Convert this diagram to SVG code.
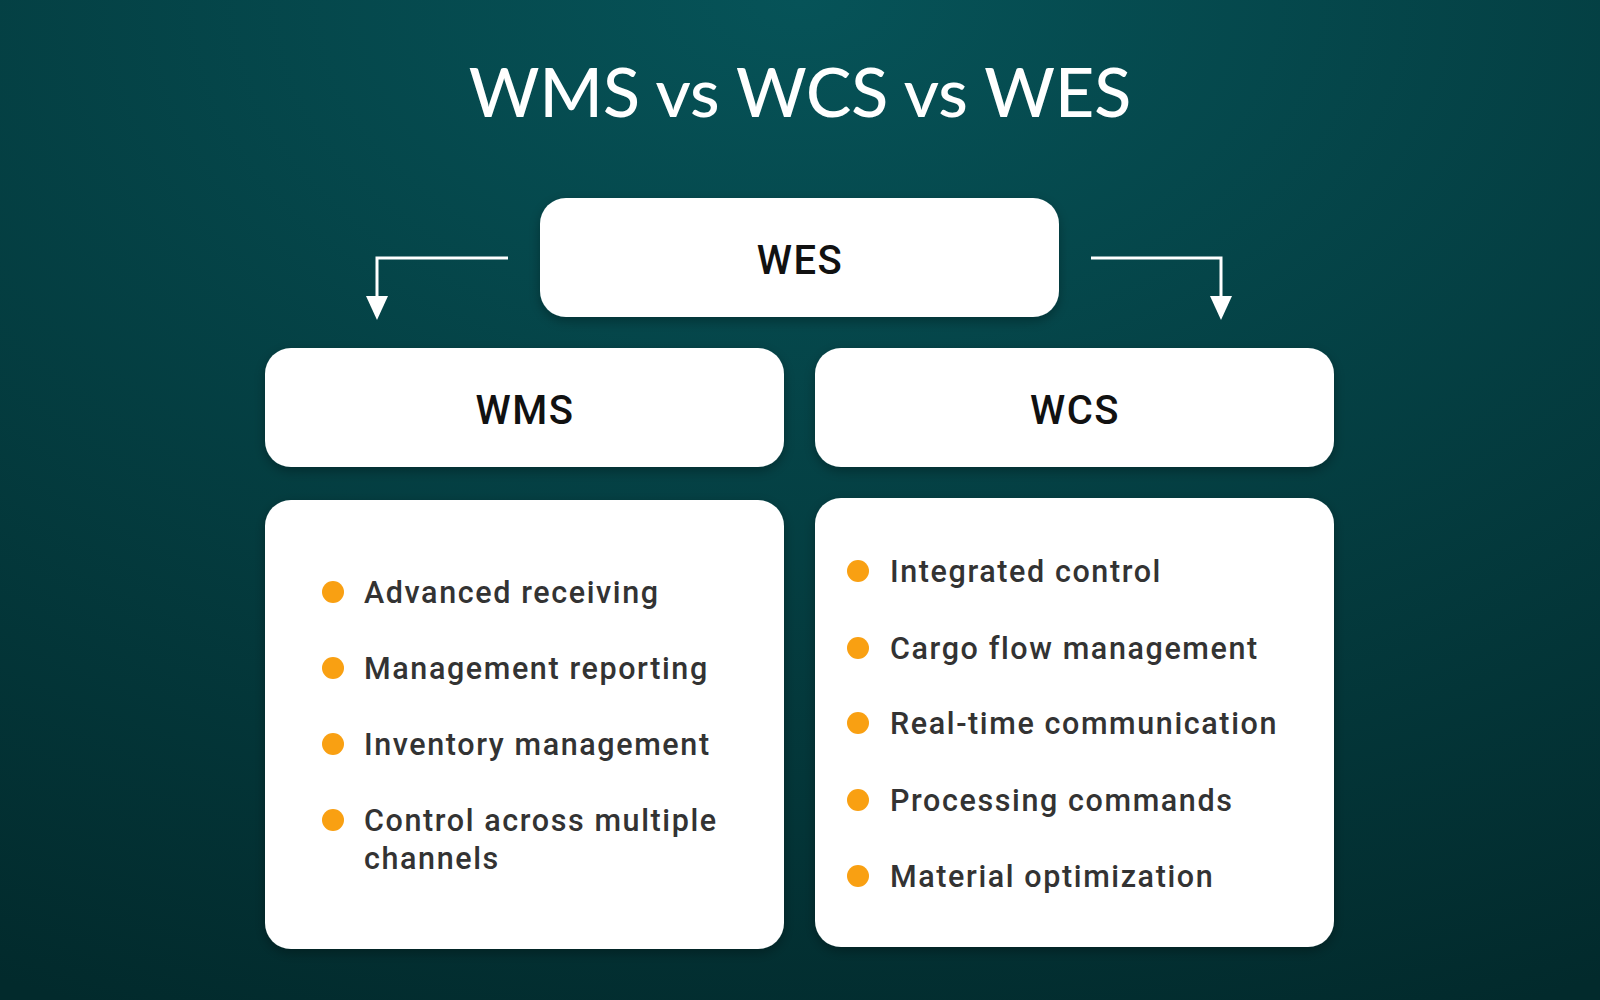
<svg xmlns="http://www.w3.org/2000/svg" width="1600" height="1000" viewBox="0 0 1600 1000">
<defs>
<radialGradient id="bg" cx="0.5" cy="0" r="1.1">
<stop offset="0" stop-color="#065358"/>
<stop offset="1" stop-color="#022a2c"/>
</radialGradient>
<filter id="sh" x="-10%" y="-10%" width="120%" height="130%"><feDropShadow dx="0" dy="4" stdDeviation="6" flood-color="#000" flood-opacity="0.3"/></filter>
<marker id="ah" markerWidth="24" markerHeight="24" refX="20" refY="12" orient="auto" markerUnits="userSpaceOnUse" viewBox="0 0 24 24"><path d="M0,1 L24,12 L0,23 Z" fill="#fff"/></marker>
<style>
.box{fill:#fff;filter:url(#sh)}
.hd{font-family:Roboto,"Liberation Sans",Arial,sans-serif;font-weight:500;font-size:40px;fill:#111;text-anchor:middle;letter-spacing:1.5px}
.it{font-family:Roboto,"Liberation Sans",sans-serif;font-weight:500;font-size:30.5px;fill:#333;letter-spacing:1.6px}
.dot{fill:#f9a012}
.ln{fill:none;stroke:#fff;stroke-width:3}
</style>
</defs>
<rect width="1600" height="1000" fill="url(#bg)"/>
<text x="800" y="117" text-anchor="middle" font-family="Lato,'Liberation Sans',sans-serif" font-size="68" fill="#fff" font-weight="500">WMS vs WCS vs WES</text>
<g id="connectors">
<path class="ln" d="M508,258 H377 V316" marker-end="url(#ah)"/>
<path class="ln" d="M1091,258 H1221 V316" marker-end="url(#ah)"/>
</g>
<g id="wes"><rect class="box" x="540" y="198" width="519" height="119" rx="26"/><text class="hd" x="800" y="274">WES</text></g>
<g id="wms"><rect class="box" x="265" y="348" width="519" height="119" rx="26"/><text class="hd" x="525" y="424">WMS</text></g>
<g id="wcs"><rect class="box" x="815" y="348" width="519" height="119" rx="26"/><text class="hd" x="1075" y="424">WCS</text></g>
<g id="wms-list"><rect class="box" x="265" y="500" width="519" height="449" rx="26"/>
<circle class="dot" cx="333" cy="592" r="11"/><text class="it" x="364" y="603">Advanced receiving</text>
<circle class="dot" cx="333" cy="668" r="11"/><text class="it" x="364" y="679">Management reporting</text>
<circle class="dot" cx="333" cy="744" r="11"/><text class="it" x="364" y="755">Inventory management</text>
<circle class="dot" cx="333" cy="820" r="11"/><text class="it" x="364" y="831">Control across multiple</text><text class="it" x="364" y="869">channels</text>
</g>
<g id="wcs-list"><rect class="box" x="815" y="498" width="519" height="449" rx="26"/>
<circle class="dot" cx="858" cy="571" r="11"/><text class="it" x="890" y="582">Integrated control</text>
<circle class="dot" cx="858" cy="648" r="11"/><text class="it" x="890" y="659">Cargo flow management</text>
<circle class="dot" cx="858" cy="723" r="11"/><text class="it" x="890" y="734">Real-time communication</text>
<circle class="dot" cx="858" cy="800" r="11"/><text class="it" x="890" y="811">Processing commands</text>
<circle class="dot" cx="858" cy="876" r="11"/><text class="it" x="890" y="887">Material optimization</text>
</g>
</svg>
